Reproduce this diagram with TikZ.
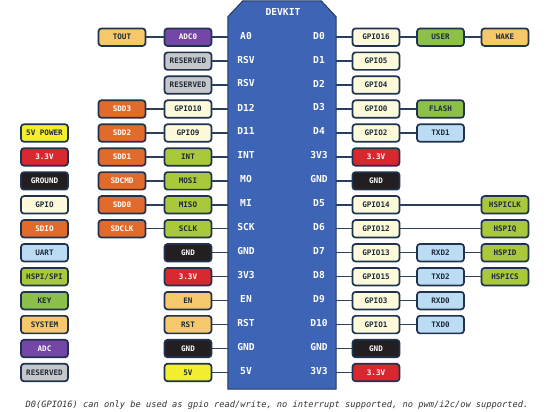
\documentclass[tikz,border=0pt]{standalone}
\usepackage{fontspec}
\setmonofont{DejaVu Sans Mono}
\definecolor{boardc}{HTML}{3E64B5}
\definecolor{boardb}{HTML}{23395D}
\definecolor{linec}{HTML}{2A3F5E}
\definecolor{bordc}{HTML}{1F3250}
\definecolor{sysc}{HTML}{F5C96B}
\definecolor{adcc}{HTML}{7447A6}
\definecolor{resc}{HTML}{C6C7C9}
\definecolor{gpioc}{HTML}{FDFADC}
\definecolor{sdioc}{HTML}{E06B2C}
\definecolor{hspic}{HTML}{A9C93A}
\definecolor{keyc}{HTML}{8CC04B}
\definecolor{uartc}{HTML}{BCDCF3}
\definecolor{pwrfive}{HTML}{F3EF2E}
\definecolor{pwrthree}{HTML}{D7282F}
\definecolor{gndc}{HTML}{231F20}
\definecolor{txtd}{HTML}{1E2A3A}
\tikzset{
  pinbox/.style={draw=bordc, line width=1.7pt, rounded corners=3pt, minimum width=47pt,
    minimum height=17.5pt, inner sep=0pt, text=txtd,
    font=\ttfamily\bfseries\fontsize{7.6}{8}\selectfont},
  sys/.style={pinbox, fill=sysc},
  adc/.style={pinbox, fill=adcc, text=white},
  res/.style={pinbox, fill=resc},
  gpio/.style={pinbox, fill=gpioc},
  sdio/.style={pinbox, fill=sdioc, text=white},
  hspi/.style={pinbox, fill=hspic},
  key/.style={pinbox, fill=keyc},
  uart/.style={pinbox, fill=uartc},
  pfive/.style={pinbox, fill=pwrfive},
  pthree/.style={pinbox, fill=pwrthree, text=white!90!pink},
  gnd/.style={pinbox, fill=gndc, text=white},
  conn/.style={draw=linec, line width=1.4pt},
  pinlab/.style={text=white, inner sep=0pt, font=\ttfamily\bfseries\fontsize{9.6}{10}\selectfont}
}
\begin{document}
\begin{tikzpicture}[x=1pt, y=-1pt]
\useasboundingbox (0,0) rectangle (550,412);
% board
\node[minimum width=108pt, minimum height=388pt, inner sep=0pt] (board) at (282,195) {};
\filldraw[fill=boardc, draw=boardb, line width=1pt]
  ([yshift=-16pt]board.north west) -- ([xshift=15pt]board.north west)
  -- ([xshift=-15pt]board.north east) -- ([yshift=-16pt]board.north east)
  -- (board.south east) -- (board.south west) -- cycle;
\node[pinlab] (devkit) at (283,12) {DEVKIT};
% board pin labels
\foreach \i/\a/\b in {0/A0/D0, 1/RSV/D1, 2/RSV/D2, 3/D12/D3, 4/D11/D4, 5/INT/3V3, 6/MO/GND,
  7/MI/D5, 8/SCK/D6, 9/GND/D7, 10/3V3/D8, 11/EN/D9, 12/RST/D10, 13/GND/GND, 14/5V/3V3}{
  \pgfmathsetmacro{\yy}{35.6+23.95*\i}
  \node[pinlab] (bl\i) at (246,\yy) {\a};
  \node[pinlab] (br\i) at (319,\yy) {\b};
}
% left inner column
\foreach \i/\lab/\st in {0/ADC0/adc, 1/RESERVED/res, 2/RESERVED/res, 3/GPIO10/gpio, 4/GPIO9/gpio,
  5/INT/hspi, 6/MOSI/hspi, 7/MISO/hspi, 8/SCLK/hspi, 9/GND/gnd, 10/3.3V/pthree, 11/EN/sys,
  12/RST/sys, 13/GND/gnd, 14/5V/pfive}{
  \pgfmathsetmacro{\yy}{37.2+23.95*\i}
  \node[\st] (li\i) at (188,\yy) {\lab};
  \draw[conn] (li\i.east) -- (li\i.east -| board.west);
}
% left outer column
\foreach \i/\lab/\st in {0/TOUT/sys, 3/SDD3/sdio, 4/SDD2/sdio, 5/SDD1/sdio, 6/SDCMD/sdio,
  7/SDD0/sdio, 8/SDCLK/sdio}{
  \pgfmathsetmacro{\yy}{37.2+23.95*\i}
  \node[\st] (lo\i) at (122,\yy) {\lab};
  \draw[conn] (lo\i.east) -- (li\i.west);
}
% legend
\foreach \i/\lab/\st in {4/5V POWER/pfive, 5/3.3V/pthree, 6/GROUND/gnd, 7/GPIO/gpio, 8/SDIO/sdio,
  9/UART/uart, 10/HSPI\slash SPI/hspi, 11/KEY/key, 12/SYSTEM/sys, 13/ADC/adc, 14/RESERVED/res}{
  \pgfmathsetmacro{\yy}{37.2+23.95*\i}
  \node[\st] (lg\i) at (44.5,\yy) {\lab};
}
% right inner column
\foreach \i/\lab/\st in {0/GPIO16/gpio, 1/GPIO5/gpio, 2/GPIO4/gpio, 3/GPIO0/gpio, 4/GPIO2/gpio,
  5/3.3V/pthree, 6/GND/gnd, 7/GPIO14/gpio, 8/GPIO12/gpio, 9/GPIO13/gpio, 10/GPIO15/gpio,
  11/GPIO3/gpio, 12/GPIO1/gpio, 13/GND/gnd, 14/3.3V/pthree}{
  \pgfmathsetmacro{\yy}{37.2+23.95*\i}
  \node[\st] (ri\i) at (376,\yy) {\lab};
  \draw[conn] (ri\i.west -| board.east) -- (ri\i.west);
}
% right middle column
\foreach \i/\lab/\st in {0/USER/key, 3/FLASH/key, 4/TXD1/uart, 9/RXD2/uart, 10/TXD2/uart,
  11/RXD0/uart, 12/TXD0/uart}{
  \pgfmathsetmacro{\yy}{37.2+23.95*\i}
  \node[\st] (rm\i) at (440.5,\yy) {\lab};
  \draw[conn] (ri\i.east) -- (rm\i.west);
}
% right outer column
\foreach \i/\lab/\st/\src in {0/WAKE/sys/rm, 7/HSPICLK/hspi/ri, 8/HSPIQ/hspi/ri,
  9/HSPID/hspi/rm, 10/HSPICS/hspi/rm}{
  \pgfmathsetmacro{\yy}{37.2+23.95*\i}
  \node[\st] (ro\i) at (505,\yy) {\lab};
  \draw[conn] (\src\i.east) -- (ro\i.west);
}
% footer
\node[text=black!80, inner sep=0pt, font=\ttfamily\itshape\fontsize{8.7}{10}\selectfont] (note) at (277,405)
  {D0(GPIO16) can only be used as gpio read/write, no interrupt supported, no pwm/i2c/ow supported.};
\end{tikzpicture}
\end{document}
